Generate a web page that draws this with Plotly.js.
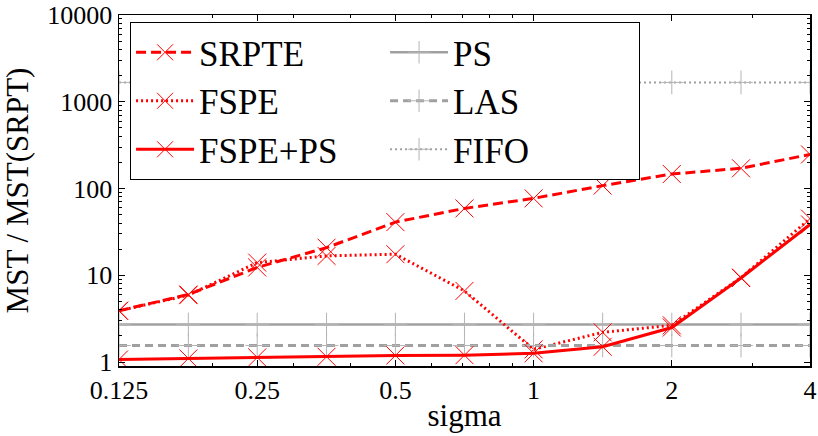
<!DOCTYPE html>
<html>
<head>
<meta charset="utf-8">
<script src="https://cdn.plot.ly/plotly-3.0.1.min.js"></script>
<style>
  html, body { margin: 0; padding: 0; background: #fff; }
  #chart { width: 818px; height: 436px; }
</style>
</head>
<body>
<div id="chart"></div>
<script>
/* global Plotly */
const SIGMA = [0.125, 0.177, 0.25, 0.354, 0.5, 0.707, 1, 1.414, 2, 2.83, 4];

const SRPTE = [3.9, 6.0, 12.3, 20.8, 41, 59, 77, 108, 147, 171, 247];
const FSPE = [3.9, 5.9, 14, 16.7, 17.5, 6.6, 1.4, 2.2, 2.65, 9.4, 45];
const FSPE_PS = [1.07, 1.1, 1.13, 1.15, 1.19, 1.2, 1.26, 1.5, 2.5, 9.3, 38.5];
const PS = [2.7, 2.7, 2.7, 2.7, 2.7, 2.7, 2.7, 2.7, 2.7, 2.7, 2.7];
const LAS = [1.55, 1.55, 1.55, 1.55, 1.55, 1.55, 1.55, 1.55, 1.55, 1.55, 1.55];
const FIFO = [1670, 1670, 1670, 1670, 1670, 1670, 1670, 1670, 1670, 1670, 1670];

const X_TICKS = [0.125, 0.25, 0.5, 1, 2, 4];
const X_TICK_TEXT = ['0.125', '0.25', '0.5', '1', '2', '4'];
const X_MINOR = [0.2, 0.3, 0.4, 0.6, 0.7, 0.8, 0.9, 3];
const Y_TICKS = [1, 10, 100, 1000, 10000];
const Y_TICK_TEXT = ['1', '10', '100', '1000', '10000'];

const RED = '#ff0000';
const GREY = '#a0a0a0';
const FONT = '"Liberation Serif", "DejaVu Serif", serif';

// minor y ticks: 2..9 in every decade
const yMinor = [];
for (let d = 1; d <= 1000; d *= 10) {
  for (let k = 2; k <= 9; k++) yMinor.push(k * d);
}

function redTrace(name, y, dash) {
  return {
    x: SIGMA, y: y, name: name, type: 'scatter', mode: 'lines+markers',
    line: { color: RED, width: 3, dash: dash },
    marker: { symbol: 'x-thin', size: 18, color: RED, line: { color: RED, width: 1 } }
  };
}

function greyTrace(name, y, dash, width) {
  return {
    x: SIGMA, y: y, name: name, type: 'scatter', mode: 'lines+markers',
    line: { color: GREY, width: width, dash: dash },
    marker: { symbol: 'cross-thin', size: 17, color: '#b4b4b4', line: { color: '#b4b4b4', width: 1 } }
  };
}

// legend fills rows, so interleave the two columns
const traces = [
  redTrace('SRPTE', SRPTE, '10px,5px'),
  greyTrace('PS', PS, 'solid', 2.5),
  redTrace('FSPE', FSPE, '2px,3px'),
  greyTrace('LAS', LAS, '8px,5px', 3),
  redTrace('FSPE+PS', FSPE_PS, 'solid'),
  greyTrace('FIFO', FIFO, '2px,3px', 2)
];

const axisCommon = {
  type: 'log',
  showgrid: false,
  zeroline: false,
  showline: true,
  linecolor: '#000',
  linewidth: 1.5,
  mirror: 'allticks',
  ticks: 'inside',
  ticklen: 6,
  tickwidth: 1,
  tickcolor: '#000',
  tickmode: 'array',
  automargin: false,
  ticklabeloverflow: 'allow',
  tickfont: { family: FONT, size: 26, color: '#000' }
};

const layout = {
  width: 818,
  height: 436,
  margin: { l: 119, r: 8, t: 15, b: 70 },
  paper_bgcolor: '#fff',
  plot_bgcolor: '#fff',
  font: { family: FONT, color: '#000' },
  showlegend: true,
  xaxis: Object.assign({}, axisCommon, {
    range: [Math.log10(0.125), Math.log10(4)],
    tickvals: X_TICKS,
    ticktext: X_TICK_TEXT,
    minor: { tickmode: 'array', tickvals: X_MINOR, ticks: 'inside', ticklen: 3, tickcolor: '#000' },
    title: { text: 'sigma', font: { family: FONT, size: 31 }, standoff: 0 }
  }),
  yaxis: Object.assign({}, axisCommon, {
    range: [Math.log10(0.9), 4],
    tickvals: Y_TICKS,
    ticktext: Y_TICK_TEXT,
    minor: { tickmode: 'array', tickvals: yMinor, ticks: 'inside', ticklen: 3, tickcolor: '#000' },
    title: { text: 'MST / MST(SRPT)', font: { family: FONT, size: 31 }, standoff: 20 }
  }),
  legend: {
    orientation: 'h',
    x: 0.016, y: 0.98,
    xanchor: 'left', yanchor: 'top',
    bgcolor: '#fff',
    bordercolor: '#000',
    borderwidth: 1,
    entrywidth: 181,
    entrywidthmode: 'pixels',
    itemwidth: 58,
    font: { family: FONT, size: 35, color: '#000' }
  }
};

Plotly.newPlot('chart', traces, layout, { displayModeBar: false, staticPlot: true });
</script>
</body>
</html>
